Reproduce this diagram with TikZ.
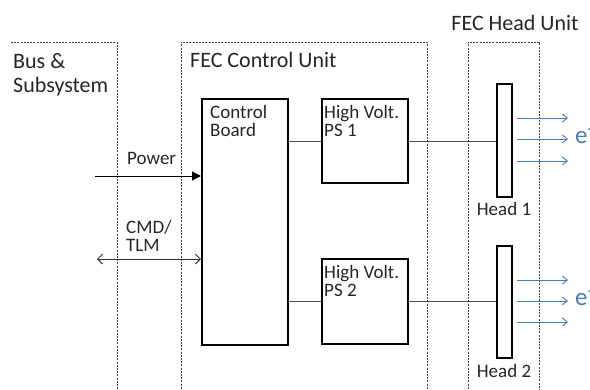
\documentclass[tikz,border=0pt]{standalone}
\usepackage{fontspec}
\setmainfont{Carlito}
\usetikzlibrary{arrows.meta}
\definecolor{beam}{RGB}{68,126,188}
\definecolor{wire}{RGB}{80,80,80}
\begin{document}
\begin{tikzpicture}[x=1pt,y=-1pt,
  container/.style={draw=black!75,line width=0.9pt,dash pattern=on 2pt off 1.2pt},
  block/.style={draw=black,line width=2.4pt,fill=white,anchor=north west,inner sep=0pt},
  big/.style={font=\fontsize{22}{24}\selectfont,text=black!85},
  lbl/.style={font=\fontsize{19}{18.5}\selectfont,text=black!85,align=left,inner sep=0pt},
  wireln/.style={draw=wire,line width=0.9pt},
  beamarrow/.style={draw=beam,line width=0.9pt,-{Straight Barb[length=5pt,width=8pt]}}]
\useasboundingbox (0,0) rectangle (590,389);
% containers
\draw[container] (11,42) -- (117,42) -- (117,392);
\draw[container] (181,392) -- (181,42) -- (427,42) -- (427,392);
\draw[container] (468,392) -- (468,42) -- (539,42) -- (539,392);
\node[big,anchor=west,inner sep=0pt] (tbus1) at (13,61) {Bus \&};
\node[big,anchor=west,inner sep=0pt] (tbus2) at (13,87) {Subsystem};
\node[big,anchor=west,inner sep=0pt] (tcu) at (190,60) {FEC Control Unit};
\node[big,anchor=center,inner sep=0pt] (thu) at (515,23) {FEC Head Unit};
% blocks
\node[block,minimum width=86pt,minimum height=246pt] (cb) at (201,98) {};
\node[block,minimum width=86pt,minimum height=84pt] (ps1) at (321,98) {};
\node[block,minimum width=86pt,minimum height=85pt] (ps2) at (321,258) {};
\node[block,minimum width=15pt,minimum height=113pt] (h1) at (496,83) {};
\node[block,minimum width=15pt,minimum height=112pt] (h2) at (496,245) {};
\node[lbl,anchor=north west] (tcb) at (210,105) {Control\\Board};
\node[lbl,anchor=north west] (tps1) at (324,105) {High Volt.\\PS 1};
\node[lbl,anchor=north west] (tps2) at (324,265) {High Volt.\\PS 2};
\node[lbl] (th1) at (504,209) {Head 1};
\node[lbl] (th2) at (504,371) {Head 2};
% wires
\draw[wireln] (cb.east |- ps1.west) -- (ps1.west);
\draw[wireln] (cb.east |- ps2.west) -- (ps2.west);
\draw[wireln] (ps1.east) -- (ps1.east -| h1.west);
\draw[wireln] (ps2.east) -- (ps2.east -| h2.west);
% external
\coordinate (pw) at (95,176);
\coordinate (cm) at (97,259);
\draw[draw=black,line width=1pt,-{Triangle[length=9pt,width=9pt]}] (pw) -- (pw -| cb.west);
\draw[draw=black!80,line width=1pt,{Straight Barb[length=5pt,width=10pt]}-{Straight Barb[length=5pt,width=10pt]}] (cm) -- (cm -| cb.west);
\node[lbl,anchor=west] (tpw) at (127,158) {Power};
\node[lbl,anchor=north west] (tcm) at (126,220) {CMD/\\TLM};
% beams
\foreach \y/\n in {118/a,139/b,161/c} {
  \coordinate (s1\n) at (517,\y);
  \coordinate (e1\n) at (568,\y);
  \draw[beamarrow] (s1\n) -- (e1\n);
}
\foreach \y/\n in {280/a,301/b,322/c} {
  \coordinate (s2\n) at (517,\y);
  \coordinate (e2\n) at (568,\y);
  \draw[beamarrow] (s2\n) -- (e2\n);
}
\node[font=\fontsize{25}{26}\selectfont,text=beam,anchor=west,inner sep=0pt] (el1) at (575,136) {e\textsuperscript{-}};
\node[font=\fontsize{25}{26}\selectfont,text=beam,anchor=west,inner sep=0pt] (el2) at (575,298) {e\textsuperscript{-}};
\end{tikzpicture}
\end{document}
